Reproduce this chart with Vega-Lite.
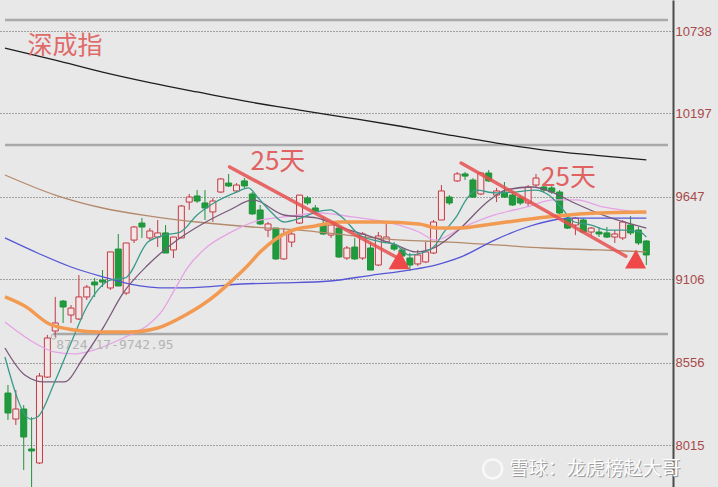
{
  "$schema": "https://vega.github.io/schema/vega-lite/v6.json",
  "width": 673,
  "height": 487,
  "autosize": {"type": "none"},
  "padding": {"left": 0, "top": 0, "right": 45, "bottom": 0},
  "background": "#e8e8e8",
  "config": {"view": {"stroke": null}, "font": "Liberation Sans"},
  "datasets": {
    "candles": [
      {"i":0,"o":8357,"h":8410,"l":8180,"c":8226},
      {"i":1,"o":8186,"h":8377,"l":8147,"c":8252},
      {"i":2,"o":8252,"h":8278,"l":7851,"c":8068},
      {"i":3,"o":7989,"h":8199,"l":7686,"c":7976},
      {"i":4,"o":7897,"h":8489,"l":7890,"c":8469},
      {"i":5,"o":8462,"h":8739,"l":8456,"c":8719},
      {"i":6,"o":8765,"h":8989,"l":8724,"c":8818},
      {"i":7,"o":8962,"h":8969,"l":8818,"c":8923},
      {"i":8,"o":8870,"h":8936,"l":8818,"c":8916},
      {"i":9,"o":8844,"h":9133,"l":8837,"c":8989},
      {"i":10,"o":8989,"h":9068,"l":8969,"c":9054},
      {"i":11,"o":9087,"h":9114,"l":8989,"c":9068},
      {"i":12,"o":9100,"h":9166,"l":9054,"c":9087},
      {"i":13,"o":9048,"h":9285,"l":9035,"c":9285},
      {"i":14,"o":9304,"h":9403,"l":9061,"c":9061},
      {"i":15,"o":9015,"h":9344,"l":9002,"c":9344},
      {"i":16,"o":9363,"h":9456,"l":9344,"c":9449},
      {"i":17,"o":9475,"h":9508,"l":9377,"c":9449},
      {"i":18,"o":9377,"h":9442,"l":9363,"c":9423},
      {"i":19,"o":9383,"h":9495,"l":9317,"c":9410},
      {"i":20,"o":9410,"h":9462,"l":9278,"c":9278},
      {"i":21,"o":9298,"h":9383,"l":9245,"c":9383},
      {"i":22,"o":9377,"h":9594,"l":9377,"c":9587},
      {"i":23,"o":9613,"h":9666,"l":9561,"c":9646},
      {"i":24,"o":9653,"h":9692,"l":9607,"c":9620},
      {"i":25,"o":9607,"h":9692,"l":9495,"c":9574},
      {"i":26,"o":9548,"h":9640,"l":9482,"c":9620},
      {"i":27,"o":9679,"h":9771,"l":9673,"c":9765},
      {"i":28,"o":9738,"h":9798,"l":9712,"c":9719},
      {"i":29,"o":9686,"h":9738,"l":9673,"c":9725},
      {"i":30,"o":9752,"h":9771,"l":9706,"c":9719},
      {"i":31,"o":9666,"h":9679,"l":9528,"c":9535},
      {"i":32,"o":9561,"h":9594,"l":9462,"c":9469},
      {"i":33,"o":9429,"h":9482,"l":9383,"c":9469},
      {"i":34,"o":9442,"h":9442,"l":9232,"c":9239},
      {"i":35,"o":9239,"h":9442,"l":9232,"c":9403},
      {"i":36,"o":9350,"h":9416,"l":9317,"c":9403},
      {"i":37,"o":9475,"h":9659,"l":9469,"c":9659},
      {"i":38,"o":9640,"h":9653,"l":9594,"c":9607},
      {"i":39,"o":9574,"h":9594,"l":9541,"c":9554},
      {"i":40,"o":9469,"h":9515,"l":9396,"c":9403},
      {"i":41,"o":9396,"h":9482,"l":9377,"c":9462},
      {"i":42,"o":9442,"h":9449,"l":9245,"c":9252},
      {"i":43,"o":9245,"h":9324,"l":9232,"c":9311},
      {"i":44,"o":9317,"h":9377,"l":9232,"c":9239},
      {"i":45,"o":9245,"h":9416,"l":9232,"c":9403},
      {"i":46,"o":9311,"h":9344,"l":9166,"c":9166},
      {"i":47,"o":9199,"h":9416,"l":9192,"c":9390},
      {"i":48,"o":9350,"h":9469,"l":9344,"c":9383},
      {"i":49,"o":9331,"h":9350,"l":9291,"c":9304},
      {"i":50,"o":9298,"h":9317,"l":9232,"c":9258},
      {"i":51,"o":9245,"h":9278,"l":9160,"c":9199},
      {"i":52,"o":9206,"h":9298,"l":9192,"c":9265},
      {"i":53,"o":9219,"h":9350,"l":9212,"c":9285},
      {"i":54,"o":9278,"h":9495,"l":9271,"c":9482},
      {"i":55,"o":9495,"h":9725,"l":9495,"c":9686},
      {"i":56,"o":9646,"h":9659,"l":9594,"c":9607},
      {"i":57,"o":9752,"h":9811,"l":9745,"c":9798},
      {"i":58,"o":9798,"h":9811,"l":9758,"c":9784},
      {"i":59,"o":9758,"h":9771,"l":9640,"c":9646},
      {"i":60,"o":9666,"h":9811,"l":9659,"c":9804},
      {"i":61,"o":9804,"h":9824,"l":9745,"c":9752},
      {"i":62,"o":9659,"h":9706,"l":9613,"c":9686},
      {"i":63,"o":9679,"h":9745,"l":9640,"c":9646},
      {"i":64,"o":9659,"h":9673,"l":9587,"c":9594},
      {"i":65,"o":9640,"h":9659,"l":9594,"c":9607},
      {"i":66,"o":9607,"h":9725,"l":9581,"c":9712},
      {"i":67,"o":9725,"h":9798,"l":9712,"c":9771},
      {"i":68,"o":9712,"h":9725,"l":9679,"c":9692},
      {"i":69,"o":9706,"h":9719,"l":9666,"c":9679},
      {"i":70,"o":9679,"h":9692,"l":9528,"c":9541},
      {"i":71,"o":9508,"h":9515,"l":9436,"c":9442},
      {"i":72,"o":9462,"h":9515,"l":9396,"c":9508},
      {"i":73,"o":9495,"h":9508,"l":9410,"c":9416},
      {"i":74,"o":9416,"h":9449,"l":9396,"c":9442},
      {"i":75,"o":9416,"h":9449,"l":9383,"c":9403},
      {"i":76,"o":9410,"h":9449,"l":9377,"c":9383},
      {"i":77,"o":9383,"h":9429,"l":9344,"c":9403},
      {"i":78,"o":9377,"h":9495,"l":9363,"c":9482},
      {"i":79,"o":9462,"h":9521,"l":9396,"c":9410},
      {"i":80,"o":9429,"h":9449,"l":9331,"c":9344},
      {"i":81,"o":9357,"h":9363,"l":9199,"c":9265}
    ],
    "ma": [
      {"s":"k","i":-0.38,"v":10626},{"s":"k","i":6,"v":10547},{"s":"k","i":12,"v":10468},{"s":"k","i":18,"v":10399},{"s":"k","i":24,"v":10337},{"s":"k","i":31,"v":10268},{"s":"k","i":37,"v":10218},{"s":"k","i":43,"v":10169},{"s":"k","i":50,"v":10110},{"s":"k","i":56,"v":10054},{"s":"k","i":62,"v":10001},{"s":"k","i":68,"v":9955},{"s":"k","i":75,"v":9919},{"s":"k","i":81,"v":9890},
      {"s":"b","i":-0.38,"v":9791},{"s":"b","i":6,"v":9659},{"s":"b","i":12,"v":9574},{"s":"b","i":18,"v":9521},{"s":"b","i":24,"v":9482},{"s":"b","i":31,"v":9449},{"s":"b","i":37,"v":9429},{"s":"b","i":43,"v":9396},{"s":"b","i":50,"v":9363},{"s":"b","i":56,"v":9350},{"s":"b","i":62,"v":9331},{"s":"b","i":68,"v":9311},{"s":"b","i":75,"v":9298},{"s":"b","i":81,"v":9285},
      {"s":"o","i":-0.38,"v":8989},{"s":"o","i":2.13,"v":8929},{"s":"o","i":5.25,"v":8811},{"s":"o","i":8.38,"v":8772},{"s":"o","i":11.5,"v":8758},{"s":"o","i":15.25,"v":8758},{"s":"o","i":19,"v":8785},{"s":"o","i":22.75,"v":8877},{"s":"o","i":24.63,"v":8936},{"s":"o","i":26.5,"v":9008},{"s":"o","i":28.38,"v":9094},{"s":"o","i":30.25,"v":9186},{"s":"o","i":32.13,"v":9291},{"s":"o","i":34,"v":9370},{"s":"o","i":35.88,"v":9423},{"s":"o","i":39,"v":9456},{"s":"o","i":42.13,"v":9482},{"s":"o","i":47.13,"v":9482},{"s":"o","i":52.13,"v":9469},{"s":"o","i":54.63,"v":9442},{"s":"o","i":57.13,"v":9442},{"s":"o","i":61.5,"v":9469},{"s":"o","i":65.25,"v":9495},{"s":"o","i":69.63,"v":9521},{"s":"o","i":74.63,"v":9541},{"s":"o","i":81,"v":9548},
      {"s":"u","i":-0.38,"v":9377},{"s":"u","i":3.75,"v":9278},{"s":"u","i":8,"v":9186},{"s":"u","i":12.13,"v":9120},{"s":"u","i":15.5,"v":9074},{"s":"u","i":20.5,"v":9048},{"s":"u","i":24.63,"v":9054},{"s":"u","i":29.63,"v":9074},{"s":"u","i":34.63,"v":9081},{"s":"u","i":40.88,"v":9094},{"s":"u","i":46.25,"v":9133},{"s":"u","i":50.88,"v":9166},{"s":"u","i":54.25,"v":9199},{"s":"u","i":57.5,"v":9252},{"s":"u","i":61.75,"v":9363},{"s":"u","i":65.88,"v":9449},{"s":"u","i":69.25,"v":9495},{"s":"u","i":71.5,"v":9508},{"s":"u","i":81,"v":9508},
      {"s":"p","i":-0.38,"v":8824},{"s":"p","i":3.38,"v":8686},{"s":"p","i":5.88,"v":8627},{"s":"p","i":8.38,"v":8614},{"s":"p","i":10.88,"v":8640},{"s":"p","i":14.63,"v":8719},{"s":"p","i":17.75,"v":8804},{"s":"p","i":19.63,"v":8903},{"s":"p","i":21.13,"v":9035},{"s":"p","i":22.75,"v":9179},{"s":"p","i":25.25,"v":9317},{"s":"p","i":28.13,"v":9410},{"s":"p","i":31.5,"v":9488},{"s":"p","i":35,"v":9515},{"s":"p","i":39.63,"v":9541},{"s":"p","i":43.75,"v":9515},{"s":"p","i":48,"v":9482},{"s":"p","i":52.13,"v":9416},{"s":"p","i":54.25,"v":9363},{"s":"p","i":57.5,"v":9442},{"s":"p","i":61.75,"v":9528},{"s":"p","i":65.88,"v":9581},{"s":"p","i":69.25,"v":9627},{"s":"p","i":72.13,"v":9627},{"s":"p","i":75.5,"v":9581},{"s":"p","i":81,"v":9541},
      {"s":"m","i":-0.38,"v":8653},{"s":"m","i":2.13,"v":8476},{"s":"m","i":4.63,"v":8430},{"s":"m","i":7.13,"v":8430},{"s":"m","i":9.63,"v":8594},{"s":"m","i":12.13,"v":8791},{"s":"m","i":14.63,"v":9015},{"s":"m","i":17.75,"v":9199},{"s":"m","i":21.13,"v":9350},{"s":"m","i":24.88,"v":9475},{"s":"m","i":28.13,"v":9561},{"s":"m","i":31.13,"v":9627},{"s":"m","i":35,"v":9528},{"s":"m","i":39.25,"v":9508},{"s":"m","i":42.5,"v":9442},{"s":"m","i":45.5,"v":9396},{"s":"m","i":49.25,"v":9331},{"s":"m","i":51.75,"v":9285},{"s":"m","i":54.25,"v":9317},{"s":"m","i":56.88,"v":9416},{"s":"m","i":61.13,"v":9627},{"s":"m","i":63.13,"v":9692},{"s":"m","i":66.5,"v":9712},{"s":"m","i":69,"v":9679},{"s":"m","i":71.88,"v":9607},{"s":"m","i":76.13,"v":9515},{"s":"m","i":81,"v":9442},
      {"s":"t","i":-0.38,"v":8594},{"s":"t","i":2.88,"v":8186},{"s":"t","i":3.75,"v":8199},{"s":"t","i":5.88,"v":8423},{"s":"t","i":8,"v":8686},{"s":"t","i":10,"v":8923},{"s":"t","i":13,"v":9100},{"s":"t","i":14.88,"v":9114},{"s":"t","i":17.75,"v":9350},{"s":"t","i":19.88,"v":9396},{"s":"t","i":21.88,"v":9416},{"s":"t","i":24,"v":9528},{"s":"t","i":26.13,"v":9607},{"s":"t","i":29,"v":9679},{"s":"t","i":30.5,"v":9706},{"s":"t","i":31.75,"v":9640},{"s":"t","i":33.38,"v":9548},{"s":"t","i":35,"v":9482},{"s":"t","i":37.13,"v":9508},{"s":"t","i":39.25,"v":9548},{"s":"t","i":40.88,"v":9561},{"s":"t","i":42.5,"v":9508},{"s":"t","i":44.63,"v":9396},{"s":"t","i":47.5,"v":9350},{"s":"t","i":49.25,"v":9331},{"s":"t","i":50.88,"v":9265},{"s":"t","i":52.5,"v":9278},{"s":"t","i":54.25,"v":9331},{"s":"t","i":55.25,"v":9410},{"s":"t","i":56.88,"v":9515},{"s":"t","i":58.13,"v":9627},{"s":"t","i":59.38,"v":9692},{"s":"t","i":61.88,"v":9673},{"s":"t","i":64.38,"v":9679},{"s":"t","i":66.88,"v":9692},{"s":"t","i":68.63,"v":9659},{"s":"t","i":70.25,"v":9574},{"s":"t","i":71.88,"v":9482},{"s":"t","i":74,"v":9462},{"s":"t","i":76.13,"v":9429},{"s":"t","i":78.13,"v":9429},{"s":"t","i":80.25,"v":9416},{"s":"t","i":81,"v":9383}
    ],
    "hlines": [
      {"i":-0.375,"i2":83.75,"v":10810},
      {"i":-0.375,"i2":83.75,"v":9988},
      {"i":5.75,"i2":83.75,"v":8745}
    ],
    "arrows": [
      {"i":28.13,"v":9844,"i2":49.25,"v2":9252},
      {"i":57.5,"v":9870,"i2":78.4,"v2":9257}
    ],
    "heads": [
      {"i":49.63,"v":9226},
      {"i":79.63,"v":9232}
    ]
  },
  "layer": [
    {
      "data": {"name": "hlines"},
      "mark": {"type": "rule", "color": "#a9a9a9", "strokeWidth": 2.5},
      "encoding": {
        "x": {"field": "i", "type": "quantitative", "scale": {"domain": [-0.375, 83.75], "nice": false, "zero": false}, "axis": null},
        "x2": {"field": "i2"},
        "y": {"field": "v", "type": "quantitative", "title": null, "scale": {"domain": [7739, 10942], "nice": false, "zero": false},
          "axis": {"orient": "right", "values": [8015, 8556, 9106, 9647, 10197, 10738], "format": "d", "title": null, "grid": true, "gridDash": [1, 2], "gridColor": "#5a5a5a", "gridOpacity": 1, "gridWidth": 1, "domain": true, "domainColor": "#4a4a4a", "domainWidth": 2, "ticks": false, "labelColor": "#a84a4a", "labelFontSize": 13, "labelPadding": 2, "labelFont": "Liberation Sans", "labelBaseline": "middle"}}
      }
    },
    {
      "data": {"name": "candles"},
      "mark": {"type": "rule", "strokeWidth": 1, "clip": true},
      "encoding": {
        "x": {"field": "i", "type": "quantitative", "axis": null},
        "y": {"field": "l", "type": "quantitative", "title": null},
        "y2": {"field": "h"},
        "stroke": {"condition": {"test": "datum.c >= datum.o", "value": "#c23a44"}, "value": "#1e9238"}
      }
    },
    {
      "data": {"name": "candles"},
      "mark": {"type": "bar", "strokeWidth": 1, "clip": true},
      "encoding": {
        "x": {"field": "i", "type": "quantitative", "axis": null},
        "y": {"field": "o", "type": "quantitative", "title": null},
        "y2": {"field": "c"},
        "size": {"value": 6},
        "fill": {"condition": {"test": "datum.c >= datum.o", "value": "#f4e6e6"}, "value": "#1f9a3c"},
        "stroke": {"condition": {"test": "datum.c >= datum.o", "value": "#c23a44"}, "value": "#1e9238"}
      }
    },
    {
      "data": {"name": "ma"},
      "transform": [{"filter": "datum.s !== 'o'"}],
      "mark": {"type": "line", "interpolate": "monotone", "clip": true, "strokeWidth": 1.3},
      "encoding": {
        "x": {"field": "i", "type": "quantitative", "axis": null},
        "y": {"field": "v", "type": "quantitative", "title": null},
        "color": {"field": "s", "type": "nominal", "legend": null, "scale": {"domain": ["k", "b", "u", "p", "m", "t"], "range": ["#1e1e1e", "#b48a6c", "#5656d6", "#e6a2e6", "#7a5a7a", "#3a9a8a"]}}
      }
    },
    {
      "data": {"name": "ma"},
      "transform": [{"filter": "datum.s === 'o'"}],
      "mark": {"type": "line", "interpolate": "monotone", "clip": true, "strokeWidth": 3.5, "color": "#f29a52"},
      "encoding": {
        "x": {"field": "i", "type": "quantitative", "axis": null},
        "y": {"field": "v", "type": "quantitative", "title": null}
      }
    },
    {
      "data": {"values": [{"i": 5.8, "v": 8728}]},
      "mark": {"type": "point", "filled": false, "color": "#999999", "size": 25, "strokeWidth": 1},
      "encoding": {
        "x": {"field": "i", "type": "quantitative", "axis": null},
        "y": {"field": "v", "type": "quantitative", "title": null}
      }
    },
    {
      "data": {"values": [{"i": 6.13, "v": 8673, "t": "8724.17-9742.95"}]},
      "mark": {"type": "text", "align": "left", "baseline": "middle", "font": "DejaVu Sans Mono", "fontSize": 13, "color": "#b4b4b4"},
      "encoding": {
        "x": {"field": "i", "type": "quantitative", "axis": null},
        "y": {"field": "v", "type": "quantitative", "title": null},
        "text": {"field": "t"}
      }
    },
    {
      "data": {"name": "arrows"},
      "mark": {"type": "rule", "color": "#e65050", "strokeWidth": 3.5, "opacity": 0.85, "strokeCap": "round"},
      "encoding": {
        "x": {"field": "i", "type": "quantitative", "axis": null},
        "y": {"field": "v", "type": "quantitative", "title": null},
        "x2": {"field": "i2"},
        "y2": {"field": "v2"}
      }
    },
    {
      "data": {"name": "heads"},
      "mark": {"type": "point", "filled": true, "shape": "M0.05,-1 L1,0.8 L-1,0.8 Z", "size": 440, "color": "#ee4848", "opacity": 1},
      "encoding": {
        "x": {"field": "i", "type": "quantitative", "axis": null},
        "y": {"field": "v", "type": "quantitative", "title": null}
      }
    },
    {
      "data": {"values": [{"i": 34.25, "v": 9876, "t": "25天"}, {"i": 71.13, "v": 9771, "t": "25天"}]},
      "mark": {"type": "text", "align": "center", "baseline": "middle", "font": "Noto Sans CJK SC", "fontSize": 26, "color": "#e06262"},
      "encoding": {
        "x": {"field": "i", "type": "quantitative", "axis": null},
        "y": {"field": "v", "type": "quantitative", "title": null},
        "text": {"field": "t"}
      }
    },
    {
      "data": {"values": [{"i": 7.25, "v": 10639, "t": "深成指"}]},
      "mark": {"type": "text", "align": "center", "baseline": "middle", "font": "Noto Sans CJK SC", "fontSize": 25, "color": "#e06a6a"},
      "encoding": {
        "x": {"field": "i", "type": "quantitative", "axis": null},
        "y": {"field": "v", "type": "quantitative", "title": null},
        "text": {"field": "t"}
      }
    },
    {
      "data": {"values": [{"i": 61.5, "v": 7858}]},
      "mark": {"type": "point", "filled": false, "color": "#ffffff", "size": 360, "strokeWidth": 2.5},
      "encoding": {
        "x": {"field": "i", "type": "quantitative", "axis": null},
        "y": {"field": "v", "type": "quantitative", "title": null}
      }
    },
    {
      "data": {"values": [{"i": 63.63, "v": 7858, "t": "雪球：龙虎榜赵大哥"}]},
      "mark": {"type": "text", "align": "left", "baseline": "middle", "font": "Noto Sans CJK SC", "fontSize": 19, "color": "#9a9a9a", "dx": 1, "dy": 1},
      "encoding": {
        "x": {"field": "i", "type": "quantitative", "axis": null},
        "y": {"field": "v", "type": "quantitative", "title": null},
        "text": {"field": "t"}
      }
    },
    {
      "data": {"values": [{"i": 63.63, "v": 7858, "t": "雪球：龙虎榜赵大哥"}]},
      "mark": {"type": "text", "align": "left", "baseline": "middle", "font": "Noto Sans CJK SC", "fontSize": 19, "color": "#ffffff"},
      "encoding": {
        "x": {"field": "i", "type": "quantitative", "axis": null},
        "y": {"field": "v", "type": "quantitative", "title": null},
        "text": {"field": "t"}
      }
    }
  ]
}
